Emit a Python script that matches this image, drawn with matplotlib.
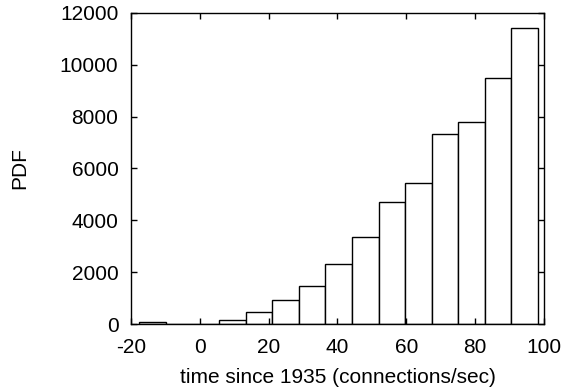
import matplotlib
matplotlib.use("Agg")
import matplotlib.pyplot as plt
import numpy as np

plt.rcParams['font.family'] = ['Liberation Sans', 'DejaVu Sans']
plt.rcParams['axes.unicode_minus'] = False

bin_edges = [-17.56, -9.84, -2.12, 5.6, 13.32, 21.04, 28.76, 36.48, 44.2,
             51.92, 59.64, 67.36, 75.08, 82.8, 90.52, 98.24]
counts = [90, 0, 0, 140, 460, 910, 1466, 2315, 3356, 4690, 5425, 7342,
          7780, 9477, 11406]
x_ticks = [-20, 0, 20, 40, 60, 80, 100]
y_ticks = [0, 2000, 4000, 6000, 8000, 10000, 12000]

fig = plt.figure(figsize=(5.68, 3.9), dpi=100)
ax = fig.add_axes([0.2306, 0.1692, 0.7271, 0.7975])

edges = np.array(bin_edges)
ax.bar(edges[:-1], counts, width=np.diff(edges), align='edge',
       facecolor='white', edgecolor='black', linewidth=1.0)

ax.set_xlim(-20, 100)
ax.set_ylim(0, 12000)
ax.set_xticks(x_ticks)
ax.set_yticks(y_ticks)
ax.tick_params(direction='in', length=4, width=1, top=True, right=True,
               labelsize=15)
ax.tick_params(axis='x', pad=10)
ax.tick_params(axis='y', pad=9)
for s in ax.spines.values():
    s.set_linewidth(1.0)
ax.set_xlabel('time since 1935 (connections/sec)', fontsize=15, labelpad=8)
ax.set_ylabel('PDF', fontsize=15, labelpad=22)

fig.savefig('out.png', dpi=100)
